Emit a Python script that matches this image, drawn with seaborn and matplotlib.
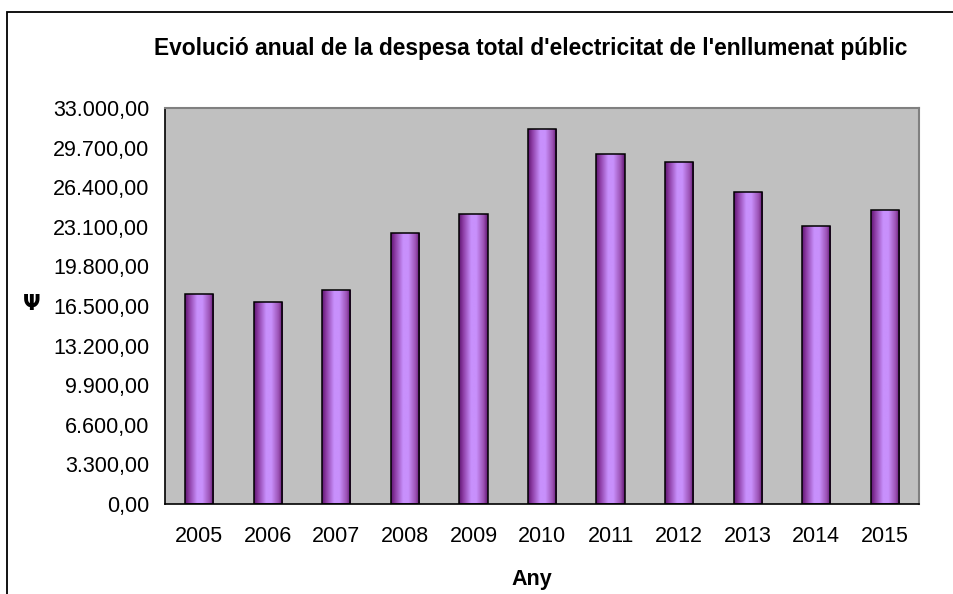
import matplotlib
matplotlib.use("Agg")
import matplotlib.pyplot as plt
import matplotlib.patches as mpatches
from matplotlib.colors import LinearSegmentedColormap
from matplotlib.ticker import FuncFormatter, MultipleLocator
import numpy as np
import pandas as pd
import seaborn as sns

# Data
years = ['2005', '2006', '2007', '2008', '2009', '2010', '2011', '2012', '2013', '2014', '2015']
despesa = [17500, 16830, 17810, 22610, 24140, 31280, 29170, 28500, 25970, 23140, 24500]

title = "Evolució anual de la despesa total d'electricitat de l'enllumenat públic"
xlabel = "Any"
ylabel = "Ψ"

df = pd.DataFrame({'any': years, 'despesa': despesa})

sns.set_style("white")
plt.rcParams['font.family'] = ['Liberation Sans', 'DejaVu Sans']
plt.rcParams['text.color'] = 'black'
plt.rcParams['xtick.color'] = 'black'
plt.rcParams['ytick.color'] = 'black'

fig = plt.figure(figsize=(9.54, 5.94), dpi=100)
ax = fig.add_axes([165 / 954, 1 - 504 / 594, (919 - 165) / 954, (504 - 108) / 594])
ax.set_facecolor('#c0c0c0')

sns.barplot(data=df, x='any', y='despesa', ax=ax, width=0.41, color='#c890fc',
            edgecolor='black', linewidth=1.1, saturation=1)

# Excel-like horizontal gradient on each bar
grad_cmap = LinearSegmentedColormap.from_list(
    'lila', [(0.0, '#5e1470'), (0.15, '#8e3ea6'), (0.42, '#c890fc'),
             (0.6, '#c890fc'), (0.85, '#9c52b4'), (1.0, '#5e1470')])
grad = np.linspace(0, 1, 256).reshape(1, -1)
for p in ax.patches:
    x0, y0 = p.get_x(), p.get_y()
    w, h = p.get_width(), p.get_height()
    im = ax.imshow(grad, cmap=grad_cmap, aspect='auto', extent=[x0, x0 + w, y0, y0 + h],
                   zorder=p.get_zorder() - 0.1, interpolation='bilinear')
    im.set_clip_path(p)
    p.set_facecolor('none')
    p.set_zorder(3)

ax.set_xlim(-0.5, len(years) - 0.5)
ax.set_ylim(0, 33000)
ax.yaxis.set_major_locator(MultipleLocator(3300))
ax.yaxis.set_major_formatter(FuncFormatter(
    lambda v, pos: f"{v:,.2f}".replace(',', 'X').replace('.', ',').replace('X', '.')))

# ticks between categories on x
ax.set_xticks(np.arange(-0.5, len(years), 1), minor=True)
ax.tick_params(axis='x', which='major', length=0, pad=16, labelsize=15.5)
ax.tick_params(axis='x', which='minor', length=6, width=1, direction='out', color='black')
ax.tick_params(axis='y', which='major', length=9, width=1, direction='inout', color='black',
               labelsize=15.5, pad=7)
ax.set_xlabel('')
ax.set_ylabel('')

for side in ['left', 'bottom']:
    ax.spines[side].set_color('black')
    ax.spines[side].set_linewidth(1.2)
for side in ['top', 'right']:
    ax.spines[side].set_color('#808080')
    ax.spines[side].set_linewidth(1.5)

fig.text(531 / 954, 1 - 49 / 594, title, ha='center', va='center', fontsize=16.4, fontweight='bold')
fig.text(532 / 954, 1 - 579 / 594, xlabel, ha='center', va='center', fontsize=15.5, fontweight='bold')
fig.text(32 / 954, 1 - 304 / 594, ylabel, ha='center', va='center', fontsize=15, fontweight='bold',
         family=['DejaVu Sans'])

# outer chart border (runs off the right and bottom edges)
border = mpatches.Rectangle((7.5 / 954, -0.1), 1.2, 1.1 - 12.5 / 594, transform=fig.transFigure,
                            fill=False, edgecolor='black', linewidth=1.3, clip_on=False)
fig.patches.append(border)

fig.savefig('out.png', dpi=100)
